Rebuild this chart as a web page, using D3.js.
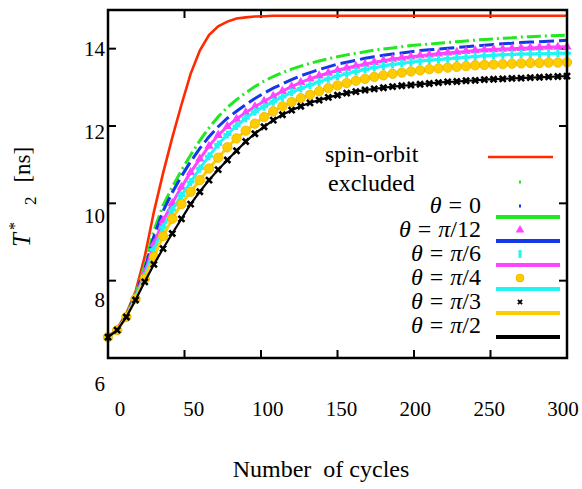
<!DOCTYPE html>
<html>
<head>
<meta charset="utf-8">
<script src="https://cdn.jsdelivr.net/npm/d3@7"></script>
<style>
body { margin: 0; background: #fff; }
svg text, svg tspan { font-family: "Liberation Serif", "Times New Roman", "DejaVu Serif", serif; fill: #000; }
</style>
</head>
<body>
<svg id="chart" width="582" height="489" font-family="Liberation Serif, Times New Roman, serif"></svg>
<script>
// cycle numbers where the curves were sampled
var cycles = [0, 6, 12, 18, 24, 30, 36, 42, 48, 54, 60, 66, 72, 78, 84, 90, 96, 102, 108, 114, 120,
    126, 132, 138, 144, 150, 156, 162, 168, 174, 180, 186, 192, 198, 204, 210, 216, 222, 228, 234, 240,
    246, 252, 258, 264, 270, 276, 282, 288, 294, 300];

var spinOrbitExcluded = [6.54, 6.76, 7.15, 7.72, 8.62, 9.78, 10.78, 11.7, 12.55, 13.35, 13.95, 14.35, 14.58, 14.7, 14.78, 14.81, 14.83, 14.84, 14.85, 14.85, 14.85,
    14.85, 14.85, 14.85, 14.85, 14.85, 14.85, 14.85, 14.85, 14.85, 14.85, 14.85, 14.85, 14.85, 14.85, 14.85, 14.85, 14.85, 14.85, 14.85, 14.85,
    14.85, 14.85, 14.85, 14.85, 14.85, 14.85, 14.85, 14.85, 14.85, 14.85];
var theta0 = [6.54, 6.74, 7.12, 7.65, 8.4, 9.3, 9.95, 10.42, 10.85, 11.25, 11.62, 11.95, 12.24, 12.48, 12.68, 12.86, 13.02, 13.16, 13.28, 13.38, 13.47,
    13.55, 13.62, 13.68, 13.74, 13.79, 13.84, 13.88, 13.92, 13.96, 13.99, 14.02, 14.05, 14.08, 14.1, 14.12, 14.14, 14.16, 14.18, 14.2, 14.22,
    14.24, 14.25, 14.27, 14.28, 14.3, 14.31, 14.32, 14.33, 14.34, 14.35];
var thetaPi12 = [6.54, 6.73, 7.1, 7.62, 8.3, 9.15, 9.8, 10.28, 10.7, 11.08, 11.42, 11.72, 11.98, 12.2, 12.38, 12.55, 12.71, 12.85, 12.98, 13.09, 13.2,
    13.3, 13.38, 13.46, 13.53, 13.6, 13.65, 13.7, 13.75, 13.79, 13.83, 13.86, 13.89, 13.92, 13.95, 13.97, 13.99, 14.01, 14.03, 14.05, 14.07,
    14.09, 14.11, 14.13, 14.14, 14.16, 14.17, 14.18, 14.19, 14.2, 14.22];
var thetaPi6 = [6.54, 6.72, 7.08, 7.58, 8.2, 8.95, 9.55, 10.0, 10.42, 10.8, 11.15, 11.48, 11.76, 11.99, 12.18, 12.35, 12.5, 12.64, 12.77, 12.9, 13.02,
    13.13, 13.22, 13.3, 13.37, 13.44, 13.5, 13.55, 13.6, 13.65, 13.69, 13.73, 13.76, 13.79, 13.82, 13.84, 13.87, 13.89, 13.91, 13.93, 13.95,
    13.97, 13.98, 13.99, 14.0, 14.01, 14.02, 14.03, 14.04, 14.04, 14.05];
var thetaPi4 = [6.54, 6.72, 7.07, 7.56, 8.12, 8.8, 9.38, 9.83, 10.2, 10.55, 10.9, 11.22, 11.52, 11.78, 12.0, 12.2, 12.37, 12.5, 12.63, 12.75, 12.87,
    12.97, 13.06, 13.14, 13.22, 13.29, 13.35, 13.41, 13.46, 13.51, 13.55, 13.59, 13.62, 13.65, 13.68, 13.7, 13.72, 13.74, 13.76, 13.78, 13.8,
    13.82, 13.83, 13.84, 13.85, 13.86, 13.86, 13.87, 13.87, 13.88, 13.88];
var thetaPi3 = [6.54, 6.72, 7.06, 7.53, 8.05, 8.62, 9.15, 9.6, 9.98, 10.3, 10.6, 10.9, 11.18, 11.45, 11.68, 11.88, 12.06, 12.23, 12.38, 12.51, 12.62,
    12.72, 12.81, 12.9, 12.98, 13.05, 13.11, 13.17, 13.22, 13.27, 13.31, 13.35, 13.38, 13.41, 13.44, 13.47, 13.49, 13.51, 13.53, 13.55, 13.57,
    13.58, 13.59, 13.6, 13.61, 13.62, 13.63, 13.63, 13.64, 13.64, 13.65];
var thetaPi2 = [6.54, 6.72, 7.06, 7.5, 7.97, 8.42, 8.83, 9.22, 9.6, 9.98, 10.3, 10.6, 10.87, 11.12, 11.36, 11.6, 11.8, 11.98, 12.15, 12.29, 12.41,
    12.51, 12.6, 12.67, 12.74, 12.8, 12.85, 12.89, 12.93, 12.96, 12.99, 13.02, 13.04, 13.06, 13.08, 13.1, 13.12, 13.14, 13.15, 13.17, 13.18,
    13.2, 13.21, 13.22, 13.23, 13.24, 13.25, 13.26, 13.27, 13.28, 13.29];

// angle part of each legend label, written as "θ = π/n"
var thetaValues = ["0", "π/12", "π/6", "π/4", "π/3", "π/2"];
var xTicks = [0, 50, 100, 150, 200, 250, 300];
var yTicks = [6, 8, 10, 12, 14];

var series = [
    {values: theta0, color: "#22e822", dash: "14,4,2,4", marker: "dot"},
    {values: thetaPi12, color: "#1238e8", dash: "15,5", marker: "dot"},
    {values: thetaPi6, color: "#ff44ff", dash: null, marker: "triangle"},
    {values: thetaPi4, color: "#22f4f4", dash: null, marker: "plus"},
    {values: thetaPi3, color: "#ffcc00", dash: null, marker: "circle"},
    {values: thetaPi2, color: "#000000", dash: null, marker: "cross"}
];

var svg = d3.select("#chart");
var x = d3.scaleLinear().domain([0, 300]).range([108, 567]);
var y = d3.scaleLinear().domain([6, 15]).range([358, 10]);
// the tick numbers in the original sit a little apart from the tick marks
var xLab = d3.scaleLinear().domain([0, 300]).range([120, 563]);
var yLab = d3.scaleLinear().domain([6, 14]).range([383, 48]);

// tick marks, inward on all four sides
var tk = svg.append("g").attr("stroke", "#000").attr("stroke-width", 2);
xTicks.slice(1, -1).forEach(function (v) {
    tk.append("line").attr("x1", x(v)).attr("x2", x(v)).attr("y1", y(6)).attr("y2", y(6) - 8);
    tk.append("line").attr("x1", x(v)).attr("x2", x(v)).attr("y1", y(15)).attr("y2", y(15) + 8);
});
yTicks.slice(1).forEach(function (v) {
    tk.append("line").attr("y1", y(v)).attr("y2", y(v)).attr("x1", x(0)).attr("x2", x(0) + 8);
    tk.append("line").attr("y1", y(v)).attr("y2", y(v)).attr("x1", x(300)).attr("x2", x(300) - 8);
});

svg.selectAll(".xl").data(xTicks).enter().append("text")
    .attr("x", function (d) { return xLab(d); }).attr("y", 416)
    .attr("text-anchor", "middle").attr("font-size", 21).text(function (d) { return d; });
svg.selectAll(".yl").data(yTicks).enter().append("text")
    .attr("x", 105).attr("y", function (d) { return yLab(d) + 7.5; })
    .attr("text-anchor", "end").attr("font-size", 21).text(function (d) { return d; });

svg.append("text").attr("x", 321).attr("y", 477).attr("text-anchor", "middle")
    .attr("font-size", 24).attr("xml:space", "preserve").text("Number  of cycles");

var yt = svg.append("text").attr("transform", "translate(30,247) rotate(-90)").attr("font-size", 23);
yt.append("tspan").attr("font-style", "italic").attr("font-size", 25).text("T");
yt.append("tspan").attr("dx", 3).attr("dy", -10).attr("font-size", 16).text("*");
yt.append("tspan").attr("dx", 17).attr("dy", 16).attr("font-size", 17).text("2");
yt.append("tspan").attr("dx", 14).attr("dy", -6).text("[ns]");

// curves
var line = d3.line()
    .x(function (d, i) { return x(cycles[i]); })
    .y(function (d) { return y(d); });

var plot = svg.append("g");
plot.append("path").datum(spinOrbitExcluded).attr("d", line)
    .attr("fill", "none").attr("stroke", "#ff2a00").attr("stroke-width", 2.6);

function drawMarker(g, type, color, cx, cy, s) {
    if (type === "triangle") {
        g.append("path").attr("d", d3.symbol(d3.symbolTriangle).size(38 * s)())
            .attr("transform", "translate(" + cx + "," + cy + ")").attr("fill", color);
    } else if (type === "plus") {
        g.append("path").attr("d", "M-4,0H4M0,-4V4").attr("transform", "translate(" + cx + "," + cy + ") scale(" + s + ")")
            .attr("stroke", color).attr("stroke-width", 3);
    } else if (type === "circle") {
        g.append("circle").attr("cx", cx).attr("cy", cy).attr("r", 4.7 * s)
            .attr("fill", color).attr("stroke", "#e8b400").attr("stroke-width", 0.8);
    } else if (type === "cross") {
        g.append("path").attr("d", "M-3,-3L3,3M-3,3L3,-3").attr("transform", "translate(" + cx + "," + cy + ") scale(" + s + ")")
            .attr("stroke", color).attr("stroke-width", 2.6);
    } else if (type === "dot") {
        g.append("rect").attr("x", cx - 1).attr("y", cy - 1.5).attr("width", 2).attr("height", 3).attr("fill", color);
    }
}

series.forEach(function (s) {
    plot.append("path").datum(s.values).attr("d", line)
        .attr("fill", "none").attr("stroke", s.color)
        .attr("stroke-width", s.marker === "cross" ? 2.2 : 3)
        .attr("stroke-dasharray", s.dash);
    if (s.marker !== "dot") {
        s.values.forEach(function (v, i) {
            drawMarker(plot, s.marker, s.color, x(cycles[i]), y(v), 1);
        });
    }
});

// frame
svg.append("rect").attr("x", x(0)).attr("y", y(15)).attr("width", x(300) - x(0)).attr("height", y(6) - y(15))
    .attr("fill", "none").attr("stroke", "#000").attr("stroke-width", 2.5);

// legend (points and lines are listed as separate rows, as in the original)
var lg = svg.append("g");
lg.append("text").attr("x", 325).attr("y", 162).attr("font-size", 24).text("spin-orbit");
lg.append("text").attr("x", 328).attr("y", 191).attr("font-size", 24).text("excluded");
lg.append("line").attr("x1", 488).attr("x2", 553).attr("y1", 157).attr("y2", 157)
    .attr("stroke", "#ff2a00").attr("stroke-width", 2.6);

thetaValues.forEach(function (val, i) {
    var t = lg.append("text").attr("x", 481).attr("y", 213 + 24 * i)
        .attr("text-anchor", "end").attr("font-size", 24);
    t.append("tspan").attr("font-style", "italic").text("θ");
    t.append("tspan").attr("dx", 7).text("=");
    if (val.charAt(0) === "π") {
        t.append("tspan").attr("dx", 7).attr("font-style", "italic").text("π");
        t.append("tspan").text(val.slice(1));
    } else {
        t.append("tspan").attr("dx", 7).text(val);
    }
    var s = series[i];
    if (s.marker === "plus") {
        lg.append("rect").attr("x", 518.5).attr("y", 182 + 24 * i - 4).attr("width", 3).attr("height", 8).attr("fill", s.color);
    } else {
        drawMarker(lg, s.marker, s.color, 520, 182 + 24 * i, s.marker === "cross" ? 0.7 : 0.85);
    }
    lg.append("line").attr("x1", 496).attr("x2", 560).attr("y1", 217 + 24 * i).attr("y2", 217 + 24 * i)
        .attr("stroke", s.color).attr("stroke-width", 4);
});
</script>
</body>
</html>
